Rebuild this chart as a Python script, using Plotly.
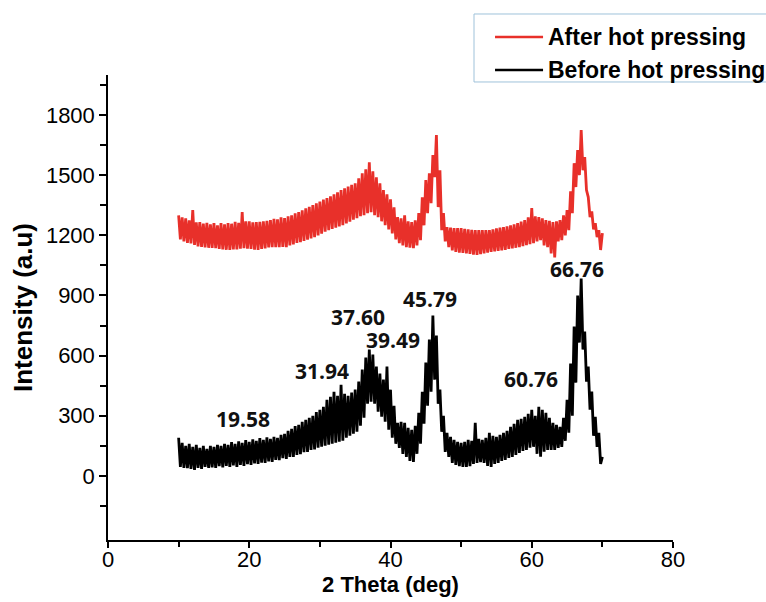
import numpy as np
import plotly.graph_objects as go

# 2-theta sampling grid (deg), 0.25 deg step from 10 to 70
two_theta = np.round(np.arange(10.0, 70.001, 0.25), 2)

# Before hot pressing (black) - intensities
before_hp = [
    190, 45, 165, 40,      # 10
    150, 38, 160, 35,      # 11
    145, 30, 155, 40,      # 12
    140, 35, 150, 45,      # 13
    135, 40, 150, 42,      # 14
    145, 40, 155, 48,      # 15
    150, 42, 160, 50,      # 16
    155, 45, 168, 52,      # 17
    160, 45, 172, 55,      # 18
    165, 50, 178, 58,      # 19
    170, 55, 182, 62,      # 20
    175, 60, 188, 66,      # 21
    180, 65, 192, 72,      # 22
    185, 70, 195, 80,      # 23
    190, 78, 205, 88,      # 24
    210, 85, 225, 95,      # 25
    235, 95, 248, 105,     # 26
    255, 108, 270, 118,    # 27
    280, 120, 290, 130,    # 28
    300, 132, 318, 140,    # 29
    330, 145, 345, 150,    # 30
    380, 155, 395, 160,    # 31
    420, 165, 400, 170,    # 32
    455, 175, 410, 190,    # 33
    400, 200, 415, 210,    # 34
    430, 220, 470, 250,    # 35
    530, 290, 590, 360,    # 36
    630, 370, 605, 360,    # 37
    545, 320, 510, 295,    # 38
    480, 270, 545, 230,    # 39
    430, 190, 350, 160,    # 40
    265, 140, 270, 110,    # 41
    265, 95, 240, 75,      # 42
    230, 70, 250, 110,     # 43
    315, 160, 420, 260,    # 44
    565, 350, 680, 420,    # 45
    800, 480, 700, 360,    # 46
    430, 220, 300, 120,    # 47
    215, 95, 195, 65,      # 48
    180, 55, 170, 48,      # 49
    165, 45, 170, 45,      # 50
    180, 48, 175, 60,      # 51
    265, 65, 185, 68,      # 52
    180, 65, 190, 50,      # 53
    215, 45, 200, 60,      # 54
    195, 65, 205, 75,      # 55
    215, 80, 225, 90,      # 56
    245, 95, 260, 105,     # 57
    280, 115, 285, 125,    # 58
    295, 130, 310, 140,    # 59
    330, 145, 300, 110,    # 60
    345, 95, 330, 120,     # 61
    315, 130, 290, 130,    # 62
    265, 130, 255, 140,    # 63
    245, 145, 290, 175,    # 64
    380, 215, 560, 300,    # 65
    745, 465, 900, 665,    # 66
    985, 630, 720, 470,    # 67
    545, 330, 420, 200,    # 68
    295, 145, 215, 60,     # 69
    95,                    # 70
]

# After hot pressing (red) - intensities
after_hp = [
    1300, 1180, 1290, 1170,   # 10
    1285, 1162, 1275, 1160,   # 11
    1326, 1152, 1265, 1145,   # 12
    1266, 1142, 1258, 1140,   # 13
    1262, 1138, 1255, 1137,   # 14
    1261, 1136, 1250, 1132,   # 15
    1261, 1130, 1255, 1128,   # 16
    1261, 1127, 1258, 1130,   # 17
    1268, 1130, 1262, 1134,   # 18
    1316, 1136, 1270, 1134,   # 19
    1270, 1132, 1265, 1128,   # 20
    1266, 1127, 1268, 1132,   # 21
    1270, 1135, 1272, 1140,   # 22
    1276, 1141, 1282, 1141,   # 23
    1280, 1141, 1290, 1142,   # 24
    1286, 1141, 1295, 1150,   # 25
    1300, 1155, 1310, 1162,   # 26
    1316, 1166, 1325, 1172,   # 27
    1335, 1178, 1342, 1185,   # 28
    1351, 1191, 1360, 1200,   # 29
    1368, 1208, 1378, 1218,   # 30
    1386, 1226, 1395, 1232,   # 31
    1405, 1238, 1415, 1245,   # 32
    1426, 1251, 1435, 1260,   # 33
    1443, 1268, 1452, 1278,   # 34
    1460, 1286, 1485, 1295,   # 35
    1510, 1301, 1530, 1310,   # 36
    1565, 1316, 1520, 1300,   # 37
    1490, 1291, 1460, 1270,   # 38
    1426, 1251, 1405, 1230,   # 39
    1380, 1210, 1340, 1180,   # 40
    1291, 1161, 1285, 1150,   # 41
    1300, 1141, 1270, 1138,   # 42
    1266, 1136, 1275, 1150,   # 43
    1311, 1176, 1390, 1250,   # 44
    1476, 1311, 1510, 1361,   # 45
    1600, 1490, 1700, 1341,   # 46
    1525, 1226, 1311, 1170,   # 47
    1241, 1141, 1238, 1125,   # 48
    1236, 1117, 1236, 1114,   # 49
    1236, 1112, 1232, 1110,   # 50
    1230, 1107, 1228, 1104,   # 51
    1226, 1102, 1226, 1106,   # 52
    1226, 1110, 1226, 1114,   # 53
    1226, 1117, 1230, 1120,   # 54
    1235, 1122, 1238, 1125,   # 55
    1241, 1127, 1245, 1132,   # 56
    1250, 1135, 1255, 1138,   # 57
    1261, 1141, 1268, 1146,   # 58
    1276, 1151, 1290, 1156,   # 59
    1336, 1161, 1295, 1170,   # 60
    1291, 1176, 1285, 1150,   # 61
    1276, 1141, 1272, 1110,   # 62
    1266, 1090, 1270, 1170,   # 63
    1276, 1176, 1300, 1200,   # 64
    1326, 1226, 1420, 1311,   # 65
    1560, 1441, 1625, 1500,   # 66
    1725, 1525, 1590, 1426,   # 67
    1391, 1291, 1320, 1230,   # 68
    1261, 1191, 1226, 1127,   # 69
    1211,                     # 70
]

# Peak labels
peak_labels = ["19.58", "31.94", "37.60", "39.49", "45.79", "60.76", "66.76"]
label_x = [19.1, 30.3, 35.4, 40.4, 45.6, 59.9, 66.4]
label_y = [284, 523, 793, 678, 882, 484, 1032]

series_names = ["After hot pressing", "Before hot pressing"]
series_colors = ["#e8302a", "#000000"]

x_ticks = [0, 20, 40, 60, 80]
y_ticks = [0, 300, 600, 900, 1200, 1500, 1800]

fig = go.Figure()
fig.add_trace(go.Scatter(
    x=two_theta, y=after_hp, mode="lines", name=series_names[0],
    line=dict(color=series_colors[0], width=2.8, simplify=False),
))
fig.add_trace(go.Scatter(
    x=two_theta, y=before_hp, mode="lines", name=series_names[1],
    line=dict(color=series_colors[1], width=2.8, simplify=False),
))

for t, lx, ly in zip(peak_labels, label_x, label_y):
    fig.add_annotation(
        x=lx, y=ly, text=t, showarrow=False, xref="x", yref="y",
        font=dict(family="Open Sans", size=21, color="#111111", weight="bold"),
    )

# Legend box drawn in paper coordinates (top-right, partly outside plot)
fig.add_shape(type="rect", xref="paper", yref="paper",
              x0=0.6478, x1=1.17, y0=0.985, y1=1.1312,
              line=dict(color="#9fc2da", width=1), fillcolor="white", layer="above")
legend_rows = [1.0817, 1.0108]
for name, col, ry in zip(series_names, series_colors, legend_rows):
    fig.add_shape(type="line", xref="paper", yref="paper",
                  x0=0.685, x1=0.770, y0=ry, y1=ry,
                  line=dict(color=col, width=2.6), layer="above")
    fig.add_annotation(x=0.7752, y=ry, xref="paper", yref="paper",
                       text=name, showarrow=False, xanchor="left", yanchor="middle",
                       font=dict(family="Liberation Sans", size=23, color="#000000", weight="bold"))

fig.update_layout(
    width=766, height=602,
    margin=dict(l=108, r=93, t=75, b=62),
    paper_bgcolor="white", plot_bgcolor="white",
    showlegend=False,
    font=dict(family="Liberation Sans", color="#000000"),
)

fig.update_xaxes(
    range=[0, 80], tickvals=x_ticks, showgrid=False, zeroline=False,
    showline=True, linecolor="#000000", linewidth=1.5,
    ticks="outside", ticklen=6, tickwidth=1.5, tickcolor="#000000",
    minor=dict(dtick=10, ticks="outside", ticklen=5, tickwidth=1.5, tickcolor="#000000", showgrid=False),
    tickfont=dict(size=22, family="Liberation Sans"),
    ticklabelstandoff=-7,
    automargin=False,
    title=dict(text="2 Theta (deg)", font=dict(size=22, family="Liberation Sans", weight="bold"), standoff=3),
)
fig.update_yaxes(
    range=[-320, 2000], tickvals=y_ticks, showgrid=False, zeroline=False,
    showline=True, linecolor="#000000", linewidth=1.5,
    ticks="outside", ticklen=7, tickwidth=1.5, tickcolor="#000000",
    minor=dict(tick0=150, dtick=300, ticks="outside", ticklen=6, tickwidth=1.5, tickcolor="#000000", showgrid=False),
    tickfont=dict(size=22, family="Liberation Sans"),
    automargin=False,
    title=dict(text="Intensity (a.u)", font=dict(size=26, family="Liberation Sans", weight="bold"), standoff=6),
)

fig.write_html("out.html")
